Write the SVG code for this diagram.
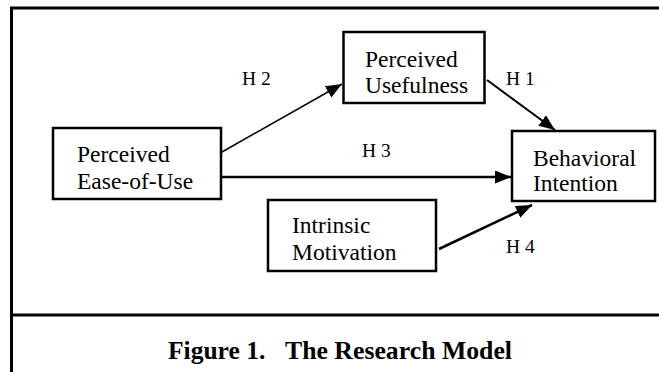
<svg xmlns="http://www.w3.org/2000/svg" width="659" height="372" viewBox="0 0 659 372">
<style>
.frame{stroke:#000;stroke-width:3;fill:none}
.box{fill:#fff;stroke:#000;stroke-width:2.5}
.t{font-family:"Liberation Serif","Times New Roman",serif;font-size:23.5px;fill:#000}
.h{font-family:"Liberation Serif","Times New Roman",serif;font-size:19.5px;fill:#000}
.cap{font-family:"Liberation Serif","Times New Roman",serif;font-size:25.5px;font-weight:bold;fill:#000}
.edge{stroke:#000;stroke-width:2;fill:none;marker-end:url(#ah)}
</style>
<defs>
<marker id="ah" markerUnits="userSpaceOnUse" markerWidth="17" markerHeight="14" refX="16" refY="6.5" orient="auto">
<path d="M0,0 L16,6.5 L0,13 z" fill="#000"/>
</marker>
</defs>
<rect width="659" height="372" fill="#fff"/>
<g id="frame">
<path class="frame" d="M11.5,372 V8 H659"/>
<path class="frame" d="M11.5,315 H659"/>
</g>
<g id="connectors">
<line class="edge" x1="222" y1="152" x2="342" y2="84" style="stroke-width:1.5"/>
<line class="edge" x1="487" y1="80" x2="555" y2="130"/>
<line class="edge" x1="221" y1="177" x2="511" y2="177" style="stroke-width:2.3"/>
<line class="edge" x1="439" y1="249" x2="532" y2="205" style="stroke-width:2.6"/>
<text class="h" x="242" y="85">H 2</text>
<text class="h" x="506" y="85">H 1</text>
<text class="h" x="362" y="157">H 3</text>
<text class="h" x="506" y="253">H 4</text>
</g>
<g id="eou">
<rect class="box" x="53" y="128" width="168" height="71"/>
<text class="t" x="77" y="162">Perceived</text>
<text class="t" x="77" y="189">Ease-of-Use</text>
</g>
<g id="pu">
<rect class="box" x="343.5" y="32" width="141" height="71"/>
<text class="t" x="365" y="67">Perceived</text>
<text class="t" x="365" y="93">Usefulness</text>
</g>
<g id="bi">
<rect class="box" x="512" y="131" width="143" height="70"/>
<text class="t" x="533" y="166">Behavioral</text>
<text class="t" x="533" y="191">Intention</text>
</g>
<g id="im">
<rect class="box" x="268" y="200" width="168" height="71"/>
<text class="t" x="292" y="233">Intrinsic</text>
<text class="t" x="292" y="260">Motivation</text>
</g>
<g id="caption">
<text class="cap" x="168" y="359">Figure 1.</text>
<text class="cap" x="285" y="359" textLength="227" lengthAdjust="spacingAndGlyphs">The Research Model</text>
</g>
</svg>
